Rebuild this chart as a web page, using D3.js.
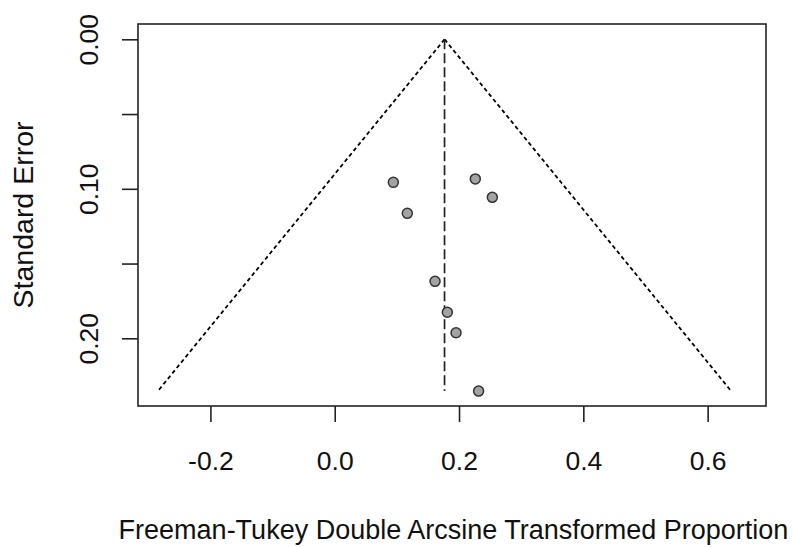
<!DOCTYPE html>
<html>
<head>
<meta charset="utf-8">
<script src="https://cdn.jsdelivr.net/npm/d3@7"></script>
<style>
  html, body { margin: 0; padding: 0; background: #fff; }
  svg { display: block; font-family: "Liberation Sans", Arial, sans-serif; }
</style>
</head>
<body>
<svg id="chart" width="793" height="547"></svg>
<script>
// ---- data ----
const studies = ["S1", "S2", "S3", "S4", "S5", "S6", "S7", "S8"];
const estimates = [0.0943, 0.2262, 0.2536, 0.1168, 0.1614, 0.1812, 0.1952, 0.2315];
const standardErrors = [0.0957, 0.0934, 0.1057, 0.1164, 0.1619, 0.1826, 0.1963, 0.2353];
const pooledEstimate = [0.1767];
const xTicks = [-0.2, 0.0, 0.2, 0.4, 0.6];
const xTickLabels = ["-0.2", "0.0", "0.2", "0.4", "0.6"];
const yTicks = [0.00, 0.05, 0.10, 0.15, 0.20];
const yTickLabels = ["0.00", "", "0.10", "", "0.20"];
const xTitle = "Freeman-Tukey Double Arcsine Transformed Proportion";
const yTitle = "Standard Error";

// ---- layout ----
const box = { left: 138, right: 766, top: 24, bottom: 406 };
const svg = d3.select("#chart");

const seMax = d3.max(standardErrors);
const mu = pooledEstimate[0];
const z = 1.96;

const x = d3.scaleLinear().domain([-0.3165, 0.6939]).range([box.left, box.right]);
const y = d3.scaleLinear().domain([-0.01023, 0.24528]).range([box.top, box.bottom]);

// funnel lines
const funnelLeft = [[mu, 0], [mu - z * seMax, seMax]];
const funnelRight = [[mu, 0], [mu + z * seMax, seMax]];
const line = d3.line().x(d => x(d[0])).y(d => y(d[1]));

svg.append("path").attr("d", line(funnelLeft))
  .attr("fill", "none").attr("stroke", "#000").attr("stroke-width", 1.8)
  .attr("stroke-dasharray", "4,3");
svg.append("path").attr("d", line(funnelRight))
  .attr("fill", "none").attr("stroke", "#000").attr("stroke-width", 1.8)
  .attr("stroke-dasharray", "4,3");
svg.append("path").attr("d", line([[mu, 0], [mu, seMax]]))
  .attr("fill", "none").attr("stroke", "#222").attr("stroke-width", 1.7)
  .attr("stroke-dasharray", "10,4");

// points
svg.append("g").selectAll("circle")
  .data(estimates.map((e, i) => ({ e, se: standardErrors[i], id: studies[i] })))
  .join("circle")
  .attr("cx", d => x(d.e))
  .attr("cy", d => y(d.se))
  .attr("r", 5)
  .attr("fill", "#a3a3a3")
  .attr("stroke", "#333")
  .attr("stroke-width", 1.5);

// box
svg.append("rect")
  .attr("x", box.left).attr("y", box.top)
  .attr("width", box.right - box.left).attr("height", box.bottom - box.top)
  .attr("fill", "none").attr("stroke", "#222").attr("stroke-width", 1.6);

// x axis
const xAxis = svg.append("g")
  .attr("transform", `translate(0,${box.bottom})`)
  .call(d3.axisBottom(x).tickValues(xTicks).tickSize(16).tickSizeOuter(0)
    .tickFormat((d, i) => xTickLabels[i]));
xAxis.select(".domain").remove();
xAxis.selectAll(".tick line").attr("stroke", "#222").attr("stroke-width", 1.6);
xAxis.selectAll(".tick text")
  .attr("y", 63.5).attr("dy", 0)
  .attr("font-size", 26.5).attr("fill", "#111")
  .attr("font-family", "Liberation Sans, Arial, sans-serif");

// y axis
const yAxis = svg.append("g")
  .attr("transform", `translate(${box.left},0)`)
  .call(d3.axisLeft(y).tickValues(yTicks).tickSize(16).tickSizeOuter(0)
    .tickFormat((d, i) => yTickLabels[i]));
yAxis.select(".domain").remove();
yAxis.selectAll(".tick line").attr("stroke", "#222").attr("stroke-width", 1.6);
yAxis.selectAll(".tick text")
  .attr("x", 0).attr("y", -40).attr("dy", 0)
  .attr("transform", "rotate(-90)")
  .attr("text-anchor", "middle")
  .attr("font-size", 26.5).attr("fill", "#111")
  .attr("font-family", "Liberation Sans, Arial, sans-serif");

// titles
svg.append("text")
  .attr("x", (box.left + box.right) / 2 + 1.5).attr("y", 539)
  .attr("text-anchor", "middle").attr("font-size", 27).attr("fill", "#111")
  .text(xTitle);
svg.append("text")
  .attr("transform", `translate(33,${(box.top + box.bottom) / 2}) rotate(-90)`)
  .attr("text-anchor", "middle").attr("font-size", 28.5).attr("fill", "#111")
  .text(yTitle);
</script>
</body>
</html>
